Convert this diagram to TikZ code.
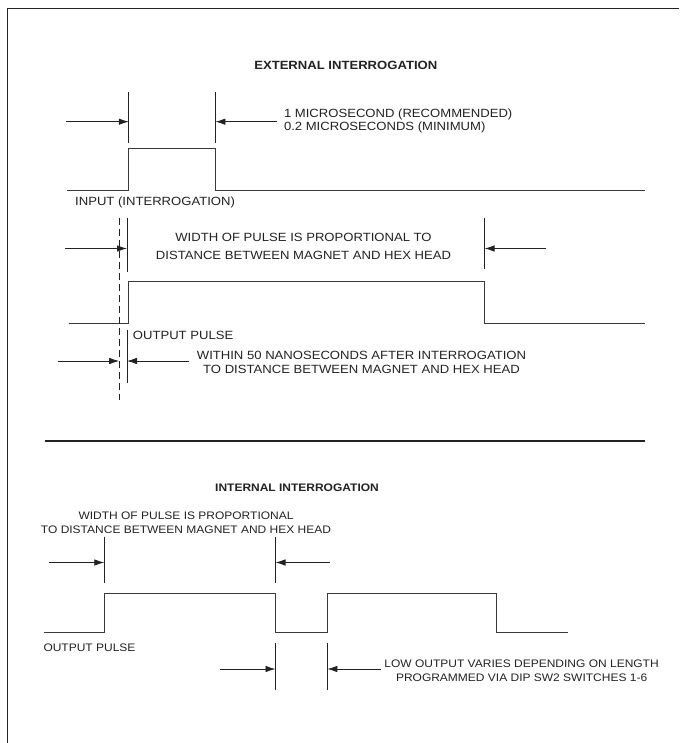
\documentclass[tikz,border=0pt]{standalone}
\usepackage{fontspec}
\newfontfamily\diagfont[FakeStretch=1.1]{Liberation Sans}
\usetikzlibrary{arrows.meta,positioning}
\definecolor{ink}{HTML}{222222}
\definecolor{wave}{HTML}{3A3A3A}

\tikzset{
  frame/.style={draw=ink,line width=1.8pt},
  pulse/.style={draw=wave,line width=1.3pt},
  guide/.style={draw=ink,line width=0.8pt},
  dim/.style={draw=ink,line width=0.8pt,->},
  bigtxt/.style={font=\fontsize{11.9}{13}\diagfont,inner sep=0pt,text=ink},
  smalltxt/.style={font=\fontsize{10.9}{14}\diagfont,inner sep=0pt,text=ink},
}

\begin{document}
\begin{tikzpicture}[x=1pt,y=-1pt,>={Latex[length=10pt,width=6.5pt]}]
  \useasboundingbox (0,0) rectangle (679,743);
  \draw[frame] (679,8.5) -- (7.5,8.5) -- (7.5,743);

  % external interrogation
  \node[bigtxt,font=\fontsize{11.9}{13}\diagfont\bfseries,anchor=base] (ttlext) at (345.8,70) {EXTERNAL INTERROGATION};

  \coordinate (I0) at (67.3,190.7);
  \coordinate (I1) at (128.8,148.3);
  \coordinate (I2) at (215.4,148.3);
  \coordinate (I3) at (645,190.7);
  \draw[pulse] (I0) -| (I1) -- (I2) |- (I3);
  \foreach \x in {128.8,215.4}{ \draw[guide] (\x,91.7) -- (\x,143.3); }
  \coordinate (ia) at (66,121.7);
  \coordinate (ib) at (277,121.7);
  \draw[dim] (ia) -- (ia -| I1);
  \draw[dim] (ib) -- (ib -| I2);
  \node[bigtxt,anchor=north west,align=left] (micro) at (283.8,109)
        {1 MICROSECOND (RECOMMENDED)\\0.2 MICROSECONDS (MINIMUM)};
  \node[bigtxt,anchor=base west] (inlbl) at (75,205.7) {INPUT (INTERROGATION)};

  \coordinate (O0) at (68.5,323.3);
  \coordinate (O1) at (128.5,281.7);
  \coordinate (O2) at (484.6,281.7);
  \coordinate (O3) at (645,323.3);
  \draw[pulse] (O0) -| (O1) -- (O2) |- (O3);
  \coordinate (gd) at (119.2,300);
  \coordinate (gs) at (127,300);
  \draw[guide,dash pattern=on 7pt off 4pt] (119.2,218.3) -- (119.2,400);
  \draw[guide] (127,218.3) -- (127,271.7) (127,330) -- (127,383.3);
  \draw[guide] (484.6,218.3) -- (484.6,269.3);
  \coordinate (oa) at (65.4,248.5);
  \coordinate (ob) at (546,248.5);
  \coordinate (oc) at (57.7,361);
  \coordinate (od) at (188.5,361);
  \draw[dim] (oa) -- (oa -| gs);
  \draw[dim] (ob) -- (ob -| O2);
  \draw[dim] (oc) -- (oc -| gd);
  \draw[dim] (od) -- (od -| gs);
  \node[bigtxt,anchor=north,align=center] (widthtop) at (303.5,233.3)
        {WIDTH OF PULSE IS PROPORTIONAL TO\\[4.3pt]DISTANCE BETWEEN MAGNET AND HEX HEAD};
  \node[bigtxt,anchor=base west] (outtop) at (132.7,339.3) {OUTPUT PULSE};
  \node[bigtxt,anchor=north,align=center] (within) at (361.5,351)
        {WITHIN 50 NANOSECONDS AFTER INTERROGATION\\[1.3pt]TO DISTANCE BETWEEN MAGNET AND HEX HEAD};

  \draw[ink,line width=2.5pt] (45,441) -- (645,441);

  % internal interrogation
  \node[smalltxt,font=\fontsize{10.9}{14}\diagfont\bfseries,anchor=base] (ttlint) at (297,491) {INTERNAL INTERROGATION};
  \node[smalltxt,anchor=north,align=center] (widthbot) at (186,511.7)
        {WIDTH OF PULSE IS PROPORTIONAL\\TO DISTANCE BETWEEN MAGNET AND HEX HEAD};

  \coordinate (P0) at (44,632.7);
  \coordinate (P1) at (104.3,593.3);
  \coordinate (P2) at (275.5,593.3);
  \coordinate (P3) at (327.3,632.7);
  \coordinate (P4) at (496.7,593.3);
  \coordinate (P5) at (568,632.7);
  \draw[pulse] (P0) -| (P1) -- (P2) |- (P3) |- (P4) |- (P5);
  \foreach \x in {104.3,275.5}{ \draw[guide] (\x,536.7) -- (\x,582.5); }
  \foreach \x in {275.5,327.3}{ \draw[guide] (\x,643.3) -- (\x,690); }
  \coordinate (pa) at (49,562.5);
  \coordinate (pb) at (330,562.5);
  \coordinate (pc) at (219.6,669);
  \coordinate (pd) at (380.6,669);
  \draw[dim] (pa) -- (pa -| P1);
  \draw[dim] (pb) -- (pb -| P2);
  \draw[dim] (pc) -- (pc -| P2);
  \draw[dim] (pd) -- (pd -| P3);
  \node[smalltxt,anchor=base west] (outbot) at (43.3,651.5) {OUTPUT PULSE};
  \node[smalltxt,anchor=north,align=center] (lowtxt) at (521.6,659.3)
        {LOW OUTPUT VARIES DEPENDING ON LENGTH\\[0.7pt]PROGRAMMED VIA DIP SW2 SWITCHES 1-6};
\end{tikzpicture}
\end{document}
